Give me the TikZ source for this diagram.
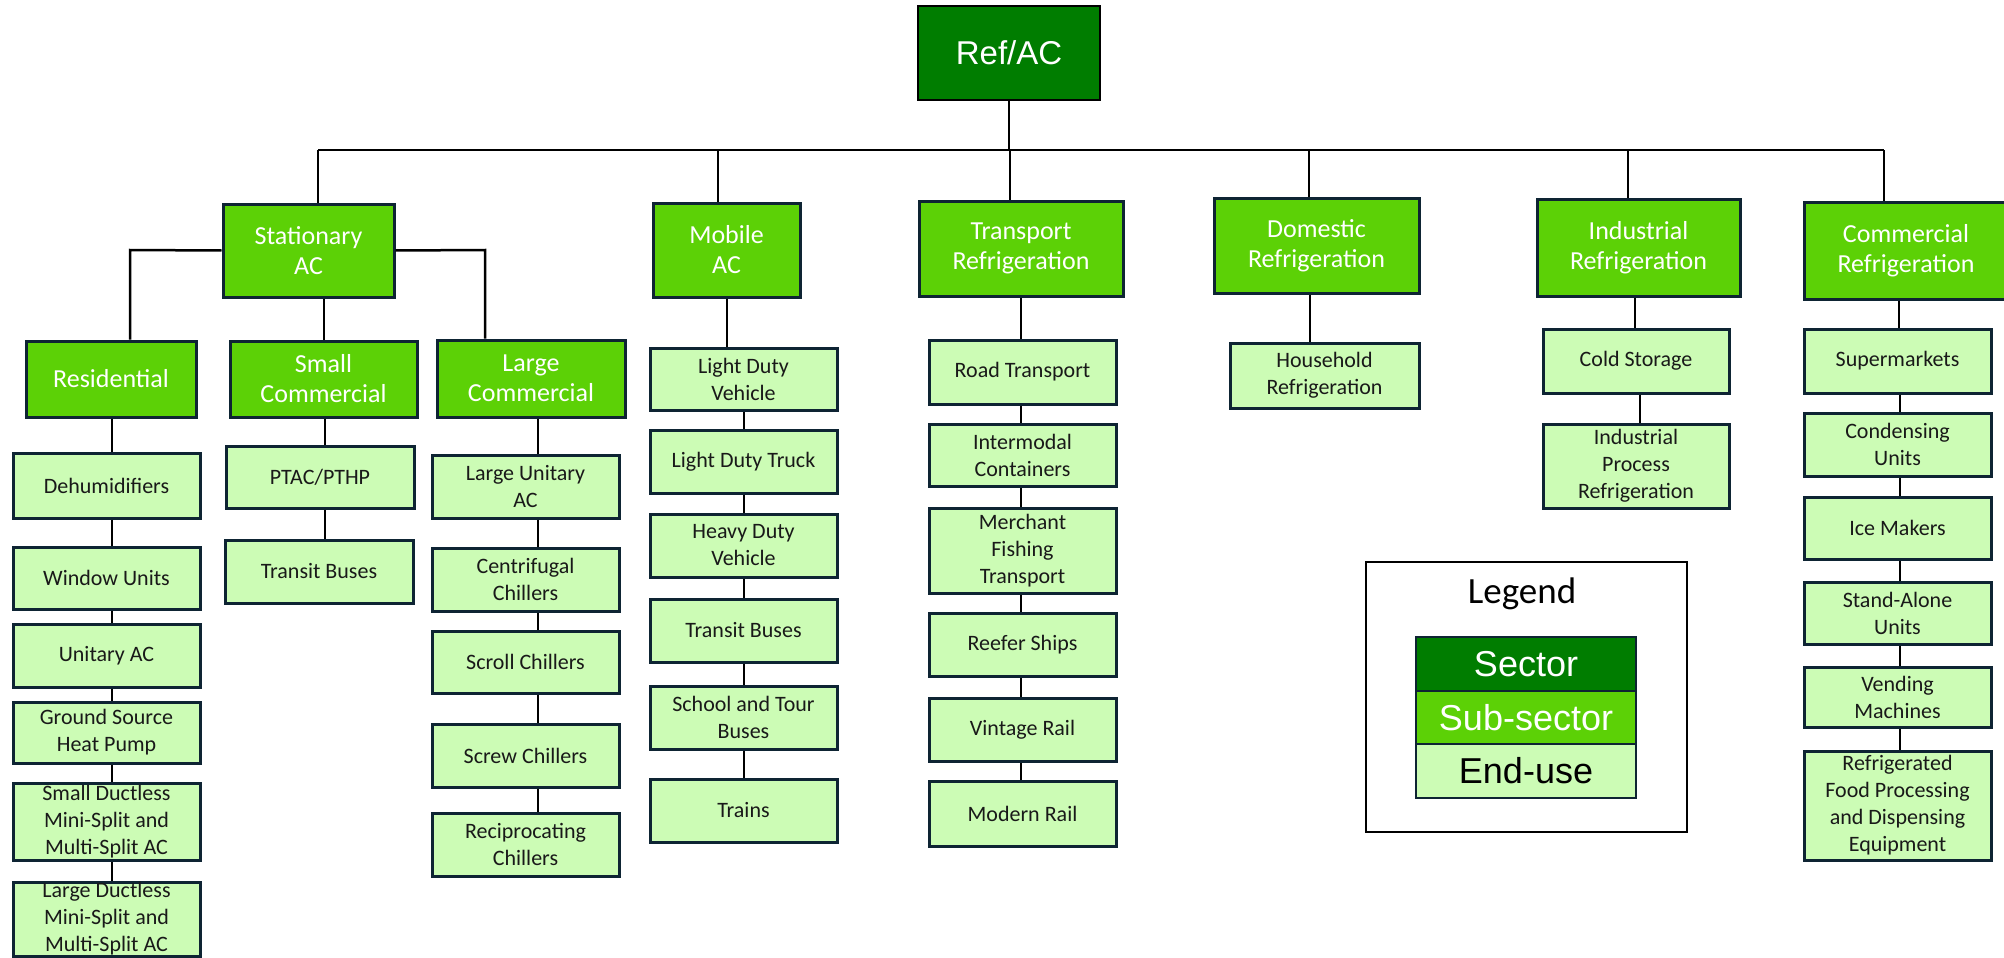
\documentclass[tikz,border=0pt]{standalone}
\usepackage{fontspec}
\setmainfont{Carlito}
\newfontfamily\arialf{Liberation Sans}
\definecolor{secg}{HTML}{007D00}
\definecolor{subg}{HTML}{5CD106}
\definecolor{endg}{HTML}{CCFCB5}
\definecolor{bordc}{HTML}{0E2433}
\newcommand\bx[7]{\node[#2,minimum width={(#5-#3)*0.5pt},minimum height={(#6-#4)*0.5pt}] (#1) at ({(#3+#5)/2},{(#4+#6)/2}) {#7};}
\newcommand\vlink[3]{\draw[conn] (#1,0 |- #2.south) -- (#1,0 |- #3.north);}
\begin{document}
\begin{tikzpicture}[x=0.5pt,y=-0.5pt,
  sector/.style={draw=black,line width=1pt,fill=secg,text=white,inner sep=0pt,align=center,font=\arialf\fontsize{16.5}{20}\selectfont},
  subsec/.style={draw=bordc,line width=1.5pt,fill=subg,text=white,inner sep=0pt,align=center,font=\fontsize{13}{15}\selectfont},
  enduse/.style={draw=bordc,line width=1.5pt,fill=endg,text=black!90,inner sep=0pt,align=center,font=\fontsize{11}{13.5}\selectfont},
  legframe/.style={draw=black,line width=1.25pt,fill=white,inner sep=0pt},
  legsec/.style={draw=bordc,line width=1.2pt,fill=secg,text=white,inner sep=0pt,font=\arialf\fontsize{18}{20}\selectfont},
  legsub/.style={draw=bordc,line width=1.2pt,fill=subg,text=white,inner sep=0pt,font=\arialf\fontsize{18}{20}\selectfont},
  legend/.style={draw=bordc,line width=1.2pt,fill=endg,text=black,inner sep=0pt,font=\arialf\fontsize{18}{20}\selectfont},
  conn/.style={draw=black,line width=1.25pt}]
\useasboundingbox (0,0) rectangle (2004,958);

% Sector
\bx{refac}{sector}{918}{6}{1100}{100}{Ref/AC}

% Sub-sectors
\bx{stat}{subsec}{223}{204}{394}{297}{Stationary\\AC}
\bx{mob}{subsec}{653}{203}{800}{297}{Mobile\\AC}
\bx{trans}{subsec}{919}{201}{1123}{296}{Transport\\Refrigeration}
\bx{dom}{subsec}{1214}{198}{1419}{293}{Domestic\\Refrigeration}
\bx{ind}{subsec}{1537}{199}{1740}{296}{Industrial\\Refrigeration}
\bx{com}{subsec}{1804}{202}{2008}{299}{Commercial\\Refrigeration}

\bx{res}{subsec}{26}{341}{196}{417}{Residential}
\bx{smc}{subsec}{230}{341}{417}{417}{Small\\Commercial}
\bx{lgc}{subsec}{437}{340}{625}{417}{Large\\Commercial}

% Residential end-uses
\bx{dehum}{enduse}{13}{453}{200}{518}{Dehumidifiers}
\bx{win}{enduse}{13}{547}{200}{609}{Window Units}
\bx{unit}{enduse}{13}{624}{200}{687}{Unitary AC}
\bx{gshp}{enduse}{13}{702}{200}{763}{Ground Source\\Heat Pump}
\bx{sdm}{enduse}{13}{783}{200}{860}{Small Ductless\\Mini-Split and\\Multi-Split AC}
\bx{ldm}{enduse}{13}{882}{200}{956}{Large Ductless\\Mini-Split and\\Multi-Split AC}

% Small commercial end-uses
\bx{ptac}{enduse}{226}{446}{414}{508}{PTAC/PTHP}
\bx{tbs}{enduse}{225}{540}{413}{603}{Transit Buses}

% Large commercial end-uses
\bx{lua}{enduse}{432}{455}{619}{518}{Large Unitary\\AC}
\bx{cent}{enduse}{432}{548}{619}{611}{Centrifugal\\Chillers}
\bx{scroll}{enduse}{432}{631}{619}{693}{Scroll Chillers}
\bx{screw}{enduse}{432}{724}{619}{787}{Screw Chillers}
\bx{recip}{enduse}{432}{813}{619}{876}{Reciprocating\\Chillers}

% Mobile AC end-uses
\bx{ldv}{enduse}{650}{348}{837}{410}{Light Duty\\Vehicle}
\bx{ldt}{enduse}{650}{430}{837}{493}{Light Duty Truck}
\bx{hdv}{enduse}{650}{514}{837}{577}{Heavy Duty\\Vehicle}
\bx{tbm}{enduse}{650}{599}{837}{662}{Transit Buses}
\bx{stb}{enduse}{650}{686}{837}{749}{School and Tour\\Buses}
\bx{trains}{enduse}{650}{779}{837}{842}{Trains}

% Transport refrigeration end-uses
\bx{road}{enduse}{929}{340}{1116}{404}{Road Transport}
\bx{inter}{enduse}{929}{424}{1116}{486}{Intermodal\\Containers}
\bx{merch}{enduse}{929}{508}{1116}{593}{Merchant\\Fishing\\Transport}
\bx{reefer}{enduse}{929}{613}{1116}{676}{Reefer Ships}
\bx{vint}{enduse}{929}{698}{1116}{761}{Vintage Rail}
\bx{modern}{enduse}{929}{781}{1116}{846}{Modern Rail}

% Domestic
\bx{house}{enduse}{1230}{343}{1419}{408}{Household\\Refrigeration}

% Industrial
\bx{cold}{enduse}{1543}{329}{1729}{393}{Cold Storage}
\bx{ipr}{enduse}{1543}{424}{1729}{508}{Industrial\\Process\\Refrigeration}

% Commercial
\bx{super}{enduse}{1804}{329}{1991}{393}{Supermarkets}
\bx{cond}{enduse}{1804}{413}{1991}{476}{Condensing\\Units}
\bx{ice}{enduse}{1804}{497}{1991}{559}{Ice Makers}
\bx{stand}{enduse}{1804}{582}{1991}{644}{Stand-Alone\\Units}
\bx{vend}{enduse}{1804}{667}{1991}{727}{Vending\\Machines}
\bx{rfp}{enduse}{1804}{751}{1991}{860}{Refrigerated\\Food Processing\\and Dispensing\\Equipment}

% Connectors: top bus
\coordinate (busL) at (318,150);
\coordinate (busR) at (1884,150);
\draw[conn] (refac.south) -- (refac.south |- busL);
\draw[conn] (busL) -- (busR);
\coordinate (dStat) at (318,150);
\coordinate (dMob) at (718,150);
\coordinate (dTrans) at (1010,150);
\coordinate (dDom) at (1309,150);
\coordinate (dInd) at (1628,150);
\coordinate (dCom) at (1884,150);
\draw[conn] (dStat) -- (dStat |- stat.north);
\draw[conn] (dMob) -- (dMob |- mob.north);
\draw[conn] (dTrans) -- (dTrans |- trans.north);
\draw[conn] (dDom) -- (dDom |- dom.north);
\draw[conn] (dInd) -- (dInd |- ind.north);
\draw[conn] (dCom) -- (dCom |- com.north);

% Stationary AC branches
\coordinate (elbL) at (130,250);
\coordinate (elbR) at (485,250);
\draw[conn] (stat.west) -- (elbL) -- (elbL |- res.north);
\draw[conn] (stat.east) -- (elbR) -- (elbR |- lgc.north);
\vlink{324}{stat}{smc}

% Residential chain
\vlink{112}{res}{dehum}
\vlink{112}{dehum}{win}
\vlink{112}{win}{unit}
\vlink{112}{unit}{gshp}
\vlink{112}{gshp}{sdm}
\vlink{112}{sdm}{ldm}

% Small commercial chain
\vlink{325}{smc}{ptac}
\vlink{325}{ptac}{tbs}

% Large commercial chain
\vlink{538}{lgc}{lua}
\vlink{538}{lua}{cent}
\vlink{538}{cent}{scroll}
\vlink{538}{scroll}{screw}
\vlink{538}{screw}{recip}

% Mobile chain
\vlink{727}{mob}{ldv}
\vlink{744}{ldv}{ldt}
\vlink{744}{ldt}{hdv}
\vlink{744}{hdv}{tbm}
\vlink{744}{tbm}{stb}
\vlink{744}{stb}{trains}

% Transport chain
\vlink{1021}{trans}{road}
\vlink{1021}{road}{inter}
\vlink{1021}{inter}{merch}
\vlink{1021}{merch}{reefer}
\vlink{1021}{reefer}{vint}
\vlink{1021}{vint}{modern}

% Domestic
\vlink{1310}{dom}{house}

% Industrial
\vlink{1635}{ind}{cold}
\vlink{1640}{cold}{ipr}

% Commercial chain
\vlink{1899}{com}{super}
\vlink{1900}{super}{cond}
\vlink{1900}{cond}{ice}
\vlink{1900}{ice}{stand}
\vlink{1900}{stand}{vend}
\vlink{1900}{vend}{rfp}

% Legend
\bx{legbox}{legframe}{1366}{562}{1687}{832}{}
\node[font=\fontsize{18.5}{20}\selectfont,text=black] (legtitle) at (1522,594) {Legend};
\bx{lsec}{legsec}{1416}{637}{1636}{691}{Sector}
\bx{lsub}{legsub}{1416}{691}{1636}{744}{Sub-sector}
\bx{lend}{legend}{1416}{744}{1636}{798}{End-use}
\end{tikzpicture}
\end{document}
